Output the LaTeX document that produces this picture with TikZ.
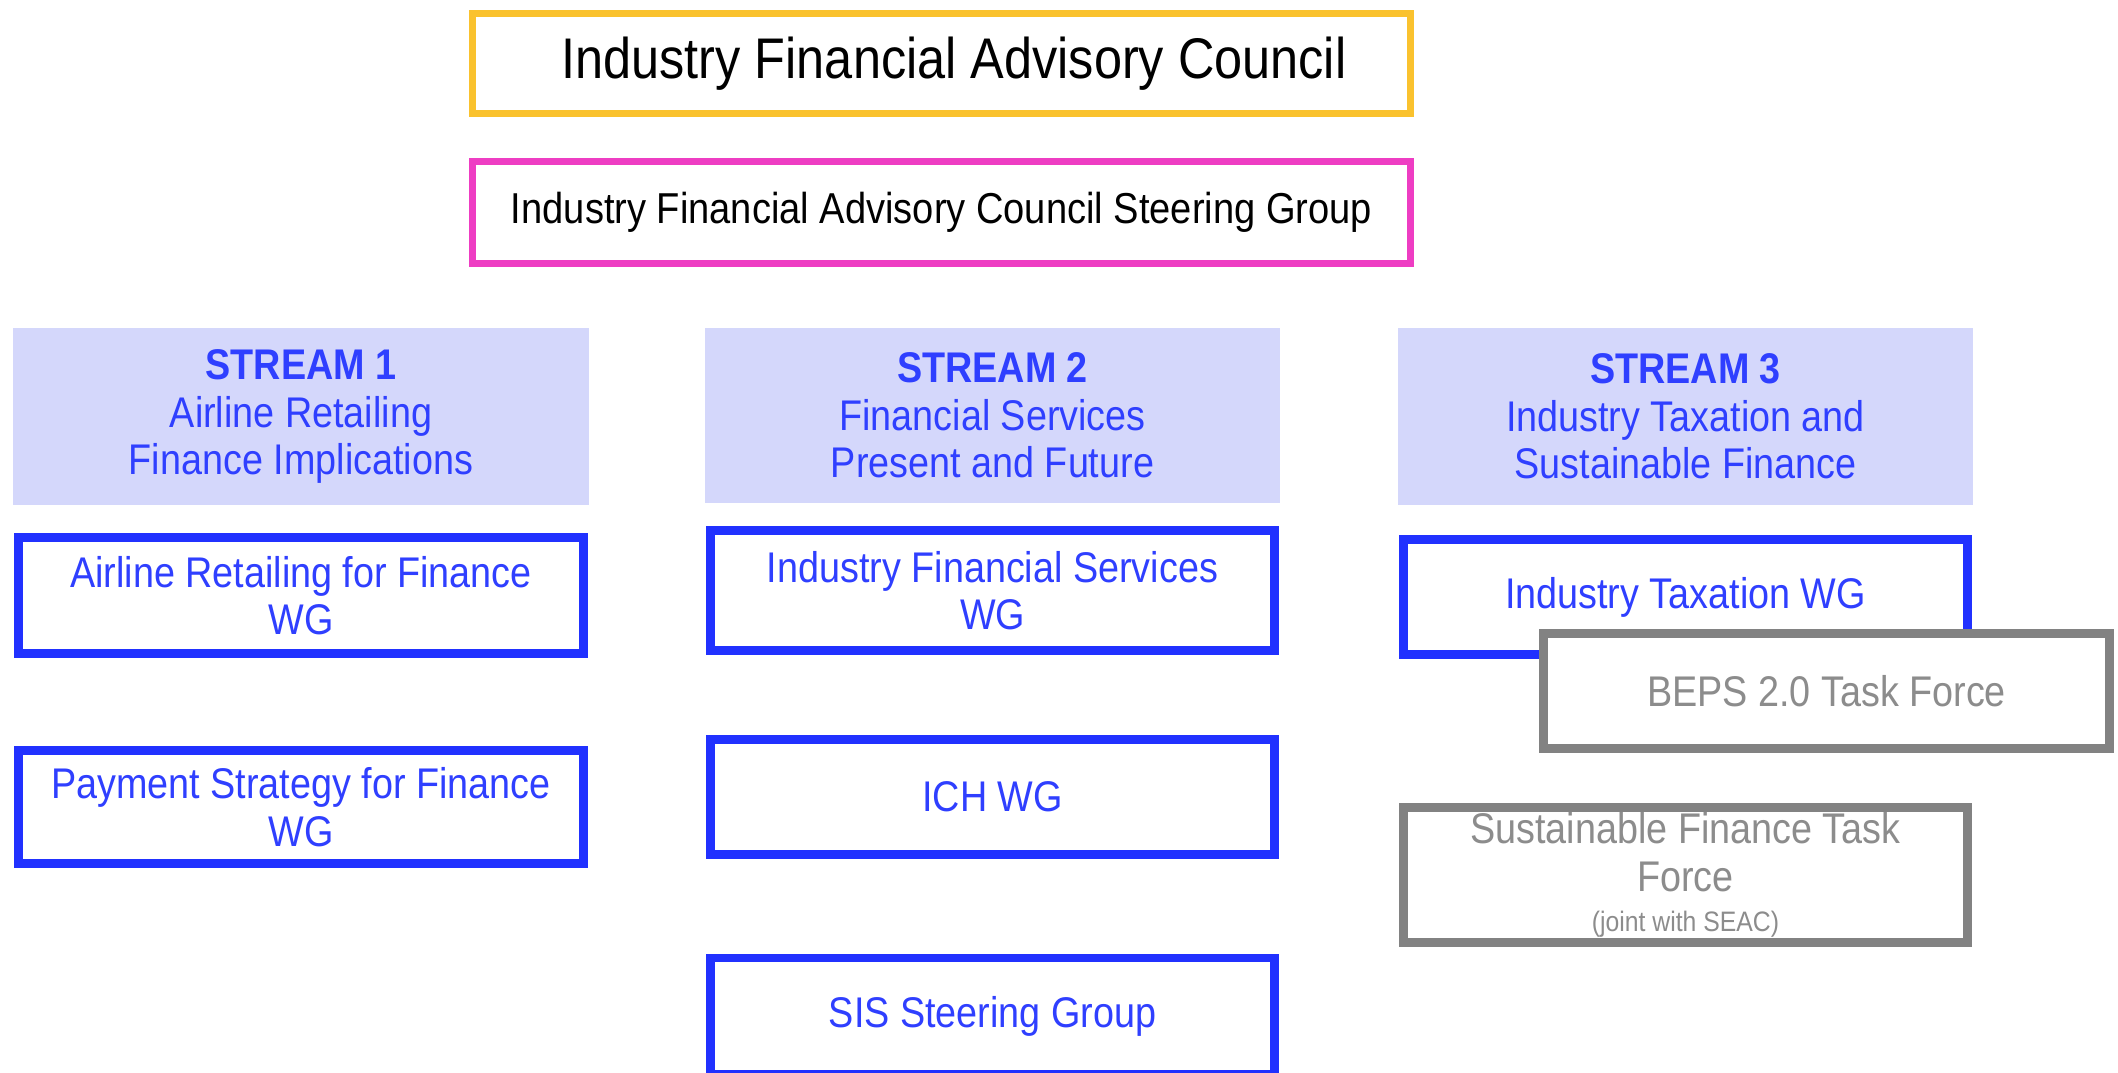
\documentclass[tikz,border=0pt]{standalone}
\usepackage{fontspec}
\setmainfont{Liberation Sans}[FakeStretch=0.88]
\definecolor{ifyellow}{HTML}{FAC22E}
\definecolor{ifpink}{HTML}{EE3DC3}
\definecolor{ifblue}{HTML}{2131FF}
\definecolor{iftext}{HTML}{2F3FFF}
\definecolor{iflav}{HTML}{D4D7FB}
\definecolor{ifgray}{HTML}{828282}
\definecolor{ifgraytext}{HTML}{8C8C8C}
\tikzset{
  topbox/.style={draw, line width=2pt, fill=white, inner sep=0pt, minimum width=9.37cm},
  streambox/.style={fill=iflav, text=iftext, align=center, inner sep=0pt, minimum width=5.75cm,
    font=\fontsize{12.2}{13.5}\selectfont},
  wgbox/.style={draw=ifblue, line width=2.5pt, fill=white, text=iftext, align=center, inner sep=0pt,
    minimum width=5.64cm, font=\fontsize{12.2}{13.5}\selectfont},
  tfbox/.style={draw=ifgray, line width=2.5pt, fill=white, text=ifgraytext, align=center, inner sep=0pt,
    minimum width=5.64cm, font=\fontsize{12.2}{13.5}\selectfont}
}
\begin{document}
\begin{tikzpicture}[x=0.01cm,y=-0.01cm]
\useasboundingbox (0,0) rectangle (2118,1072);
\node[topbox, draw=ifyellow, minimum height=0.99cm, font=\fontsize{16.3}{18}\selectfont] (council) at (941.5,63.5) {\hspace{0.25cm}Industry Financial Advisory Council};
\node[topbox, draw=ifpink, minimum height=1.01cm, font=\fontsize{12.3}{14}\selectfont] (steering) at (941.5,212.5) {Industry Financial Advisory Council Steering Group\hspace{0.2cm}};

\node[streambox, minimum height=1.77cm] (stream1) at (301,416.5) {\textbf{STREAM 1}\\Airline Retailing\\Finance Implications};
\node[streambox, minimum height=1.75cm] (stream2) at (992.5,415.5) {\textbf{STREAM 2}\\Financial Services\\Present and Future};
\node[streambox, minimum height=1.77cm] (stream3) at (1685.5,416.5) {\textbf{STREAM 3}\\Industry Taxation and\\Sustainable Finance};

\node[wgbox, minimum height=1.16cm] (retailwg) at (301,595.5) {Airline Retailing for Finance\\WG};
\node[wgbox, minimum height=1.13cm] (paymentwg) at (301,807) {Payment Strategy for Finance\\WG};

\node[wgbox, minimum height=1.20cm] (serviceswg) at (992.5,590.5) {Industry Financial Services\\WG};
\node[wgbox, minimum height=1.15cm] (ichwg) at (992.5,797) {ICH WG};
\node[wgbox, minimum height=1.16cm] (sissg) at (992.5,1016) {SIS Steering Group};

\node[wgbox, minimum height=1.15cm] (taxwg) at (1685.5,597) {Industry Taxation WG};
\node[tfbox, minimum width=5.66cm, minimum height=1.15cm] (bepstf) at (1826.5,691) {BEPS 2.0 Task Force};
\node[tfbox, minimum height=1.35cm] (sustf) at (1685.5,875) {Sustainable Finance Task\\Force\\[-2pt]{\fontsize{8}{9}\selectfont(joint with SEAC)}};
\end{tikzpicture}
\end{document}
